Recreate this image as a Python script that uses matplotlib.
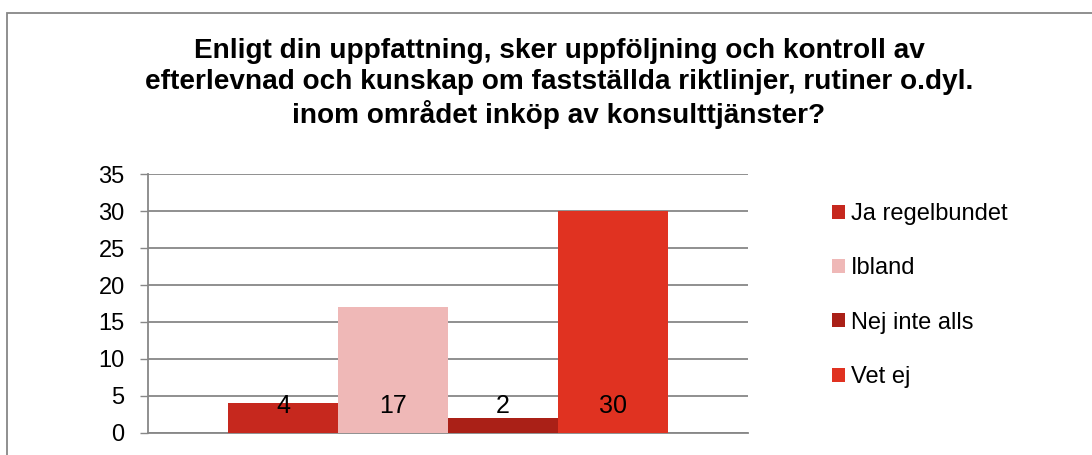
import matplotlib
matplotlib.use("Agg")
import matplotlib.pyplot as plt
from matplotlib.patches import Rectangle

plt.rcParams['font.family'] = ['Liberation Sans', 'DejaVu Sans']

title = ("Enligt din uppfattning, sker uppföljning och kontroll av\n"
         "efterlevnad och kunskap om fastställda riktlinjer, rutiner o.dyl.\n"
         "inom området inköp av konsulttjänster?")
series = ["Ja regelbundet", "Ibland", "Nej inte alls", "Vet ej"]
values = [4, 17, 2, 30]
colors = ["#C6281E", "#EFB8B7", "#AA2017", "#E03221"]
yticks = [0, 5, 10, 15, 20, 25, 30, 35]

W, H = 1092, 455
fig = plt.figure(figsize=(W / 100, H / 100), dpi=100)

# outer chart frame (extends beyond figure on right/bottom)
fig.patches.append(Rectangle((7 / W, -0.2), 1.2, (H - 13) / H + 0.2,
                             transform=fig.transFigure, fill=False,
                             edgecolor="#878787", linewidth=1.3))

ax = fig.add_axes([148 / W, (H - 432.7) / H, 600 / W, (432.7 - 174.3) / H])

width = 0.1833
bars = []
for i, (name, v, c) in enumerate(zip(series, values, colors)):
    x = (i - 1.5) * width
    b = ax.bar(x, v, width=width, color=c, label=name, zorder=3)
    bars.append(b)
    ax.text(x, 3.6, str(v), ha="center", va="center", fontsize=18,
            color="black", zorder=4)

ax.set_xlim(-0.5, 0.5)
ax.set_ylim(0, 35)
ax.set_yticks(yticks)
ax.set_xticks([])
ax.yaxis.grid(True, color="#878787", linewidth=1.3, zorder=0)
for s in ["top", "right"]:
    ax.spines[s].set_visible(False)
ax.spines["left"].set_color("#878787")
ax.spines["left"].set_linewidth(1.3)
ax.spines["bottom"].set_color("#878787")
ax.spines["bottom"].set_linewidth(1.3)
ax.tick_params(axis="y", length=5.8, width=1.0, color="#878787",
               labelsize=17, pad=11)

fig.text(559 / W, 1 - 38 / H, title, ha="center", va="top",
         fontsize=20.2, fontweight="bold", linespacing=1.24)

ax.legend(loc="upper left", bbox_to_anchor=(832 / W, 1 - 203 / H),
          bbox_transform=fig.transFigure, frameon=False, fontsize=17,
          handlelength=0.55, handleheight=0.55, handletextpad=0.25,
          labelspacing=1.37, borderpad=0, borderaxespad=0)

fig.savefig("out.png", dpi=100)
